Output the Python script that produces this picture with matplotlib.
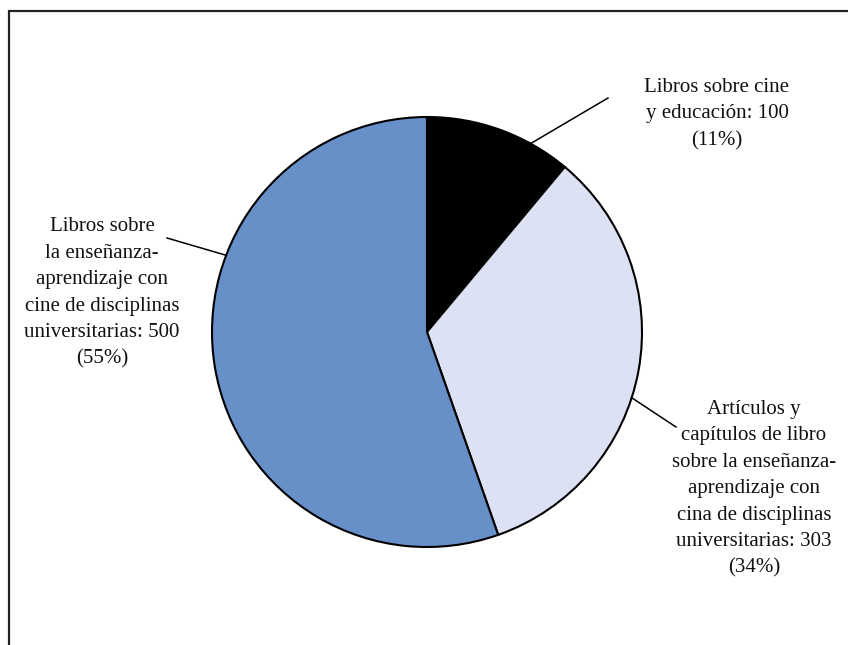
import numpy as np
import matplotlib
matplotlib.use("Agg")
import matplotlib.pyplot as plt
from matplotlib.patches import Rectangle

# Data
categories = [
    "Libros sobre cine\ny educación",
    "Artículos y\ncapítulos de libro\nsobre la enseñanza-\naprendizaje con\ncina de disciplinas\nuniversitarias",
    "Libros sobre\nla enseñanza-\naprendizaje con\ncine de disciplinas\nuniversitarias",
]
values = [100, 303, 500]
percent_labels = ["11%", "34%", "55%"]
colors = ["#000000", "#DCE1F3", "#678FC8"]

W, H = 848, 645
fig = plt.figure(figsize=(W / 100, H / 100), dpi=100)
ax = fig.add_axes([0, 0, 1, 1])

# outer frame (extends beyond right/bottom edges)
ax.add_patch(Rectangle((8.5, -20), W + 20, H - 11 + 20, fill=False,
                       edgecolor="#222222", linewidth=1.6, zorder=0))

cx, cy, R = 427, H - 332, 215
ax.pie(values, colors=colors, startangle=90, counterclock=False,
       center=(cx, cy), radius=R,
       wedgeprops=dict(edgecolor="black", linewidth=1.5), frame=True)
ax.set_xlim(0, W)
ax.set_ylim(0, H)
ax.set_aspect("equal")
ax.axis("off")

font = dict(family=["Liberation Serif", "DejaVu Serif"], fontsize=15,
            color="#111111", ha="center", va="center", linespacing=1.53)

# label positions (pixel coords from top) and leader lines
label_pos = [(717, 114), (754, 489), (102, 293)]
leader_angle = [28.8, 107.8, 290.9]  # degrees clockwise from top
leader_end = [(608, 98), (676, 427), (167, 238)]

for cat, v, p, (lx, ly), ang, (ex, ey) in zip(categories, values, percent_labels,
                                              label_pos, leader_angle, leader_end):
    ax.text(lx, H - ly, f"{cat}: {v}\n({p})", **font)
    a = np.deg2rad(ang)
    sx, sy = cx + R * np.sin(a), cy + R * np.cos(a)
    ax.plot([sx, ex], [sy, H - ey], color="black", linewidth=1.1)

fig.savefig("out.png", dpi=100)
